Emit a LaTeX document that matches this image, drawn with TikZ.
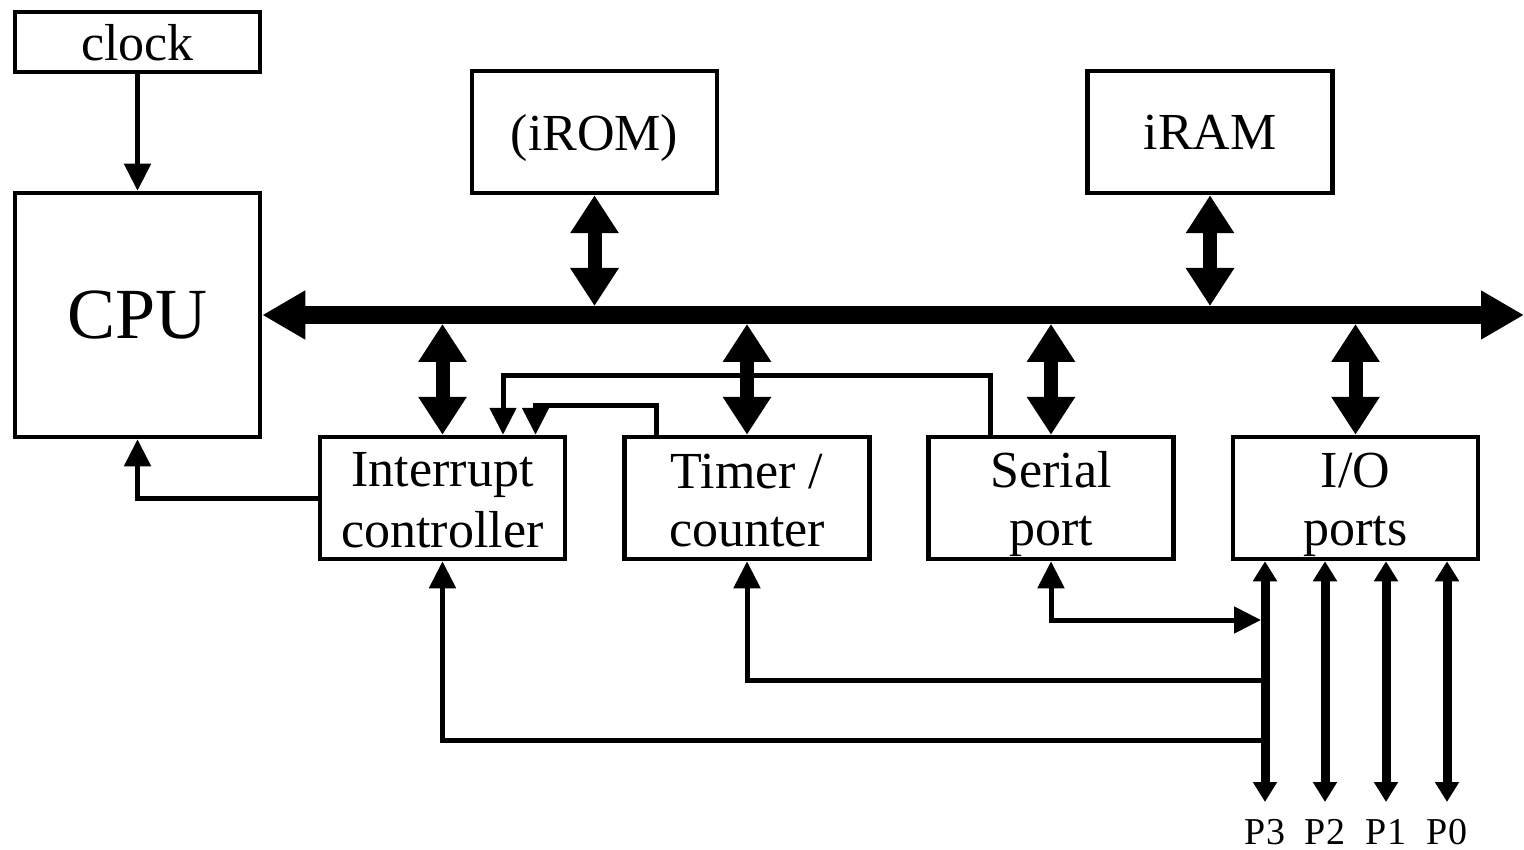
\documentclass[tikz,border=0pt]{standalone}
\usepackage{fontspec}
\setmainfont{Liberation Serif}
\usetikzlibrary{arrows.meta}
\newcommand{\ls}{\rule[-10pt]{0pt}{58pt}}
\begin{document}
\begin{tikzpicture}[x=1pt,y=-1pt,
 box/.style={draw, line width=4.5pt, inner sep=0pt, align=center, font=\fontsize{52}{58}\selectfont},
 bus/.style={line width=18pt, {Triangle[length=43pt,width=46pt]}-{Triangle[length=43pt,width=46pt]}},
 link/.style={line width=14pt, {Triangle[length=38pt,width=46pt]}-{Triangle[length=38pt,width=46pt]}},
 sig/.style={line width=5pt, -{Triangle[length=27pt,width=26pt]}},
 sigboth/.style={line width=5pt, {Triangle[length=27pt,width=26pt]}-{Triangle[length=27pt,width=26pt]}},
 port/.style={line width=9pt, {Triangle[length=20pt,width=23pt]}-{Triangle[length=20pt,width=23pt]}},
 plabel/.style={font=\fontsize{38}{40}\selectfont, inner sep=0pt, anchor=base}
]
\useasboundingbox (0,0) rectangle (1524,850);

\node[box, minimum width=245pt, minimum height=60pt, text depth=0pt] (clock) at (137.5,42) {clock};
\node[box, minimum width=245pt, minimum height=244pt, font=\fontsize{72}{80}\selectfont, text depth=0pt] (cpu) at (137.5,315) {CPU};
\node[box, minimum width=245pt, minimum height=122pt, text depth=0pt] (irom) at (594.5,132) {(iROM)};
\node[box, minimum width=245pt, minimum height=122pt, text depth=0pt] (iram) at (1210,132) {iRAM};
\node[box, minimum width=245pt, minimum height=122pt] (intc) at (442.5,498) {Interrupt\ls\\controller\ls};
\node[box, minimum width=245pt, minimum height=122pt] (timer) at (747,498) {Timer /\ls\\counter\ls};
\node[box, minimum width=245pt, minimum height=122pt] (serial) at (1051,498) {Serial\ls\\port\ls};
\node[box, minimum width=245pt, minimum height=122pt] (io) at (1355.5,498) {I/O\ls\\ports\ls};

\coordinate (busR) at (1524,315);
\coordinate (busT) at (0,306);
\coordinate (busB) at (0,324);

\draw[sig] (clock.south) -- (cpu.north);
\draw[bus] (cpu.east) -- (busR);
\draw[link] (irom.south) -- (irom.south |- busT);
\draw[link] (iram.south) -- (iram.south |- busT);
\draw[link] (intc.north) -- (intc.north |- busB);
\draw[link] (timer.north) -- (timer.north |- busB);
\draw[link] (serial.north) -- (serial.north |- busB);
\draw[link] (io.north) -- (io.north |- busB);

\draw[sig] ([xshift=-61pt]serial.north) -- ++(0,-59) -| ([xshift=60.5pt]intc.north);
\draw[sig] ([xshift=-91pt]timer.north) -- ++(0,-29) -| ([xshift=93pt]intc.north);
\draw[sig] (intc.west) -| (cpu.south);

\node[plabel] (P3) at (1265,844) {P3};
\node[plabel] (P2) at (1325,844) {P2};
\node[plabel] (P1) at (1386,844) {P1};
\node[plabel] (P0) at (1447,844) {P0};
\coordinate (p3b) at (1265,802);
\coordinate (p2b) at (1325,802);
\coordinate (p1b) at (1386,802);
\coordinate (p0b) at (1447,802);
\draw[port] (io.south -| p3b) -- (p3b);
\draw[port] (io.south -| p2b) -- (p2b);
\draw[port] (io.south -| p1b) -- (p1b);
\draw[port] (io.south -| p0b) -- (p0b);

\coordinate (spE) at (1261,620);
\coordinate (tJ) at (1261,680);
\coordinate (iJ) at (1261,740);
\draw[sigboth] (serial.south) |- (spE);
\draw[sig] (tJ) -| (timer.south);
\draw[sig] (iJ) -| (intc.south);
\end{tikzpicture}
\end{document}
